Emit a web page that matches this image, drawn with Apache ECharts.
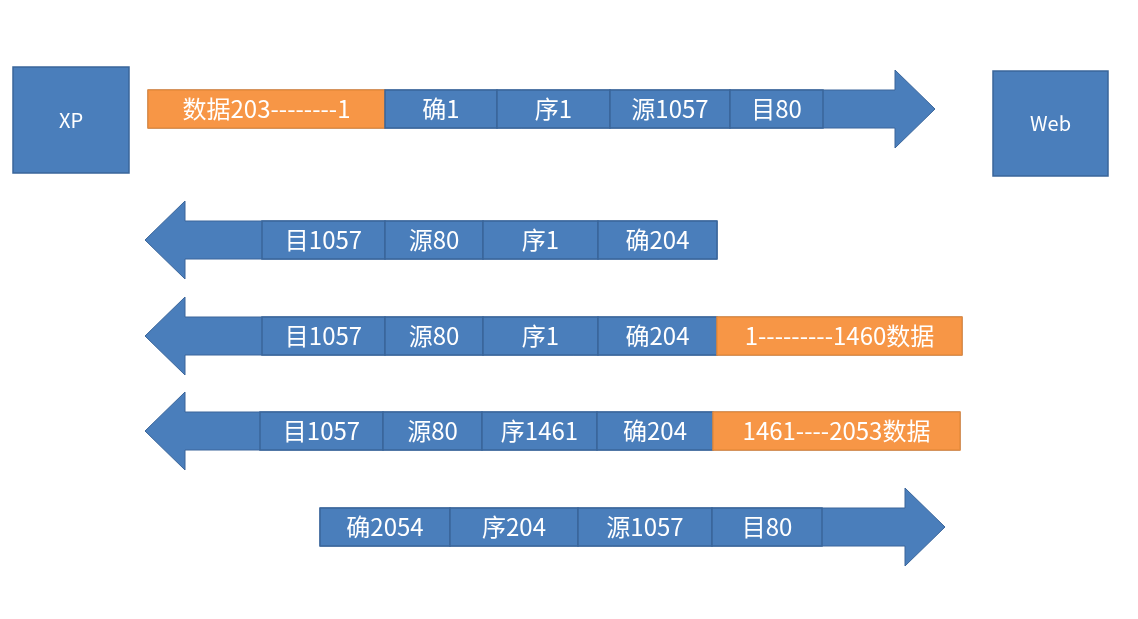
<!DOCTYPE html>
<html>
<head>
<meta charset="UTF-8">
<title>TCP</title>
<script src="https://cdn.jsdelivr.net/npm/echarts@6/dist/echarts.min.js"></script>
<style>html,body{margin:0;background:#fff}#main{width:1138px;height:619px}</style>
</head>
<body>
<div id="main"></div>
<script>
// hosts
var hostNames = ['XP', 'Web'];
var hostBoxes = [[13, 67, 129, 173], [993, 71, 1108, 176]];

// rows: direction, centre y, arrow tail / tip, cell edges and labels
var rowDir = ['right', 'left', 'left', 'left', 'right'];
var rowY = [109, 240, 336, 431, 527];
var rowTail = [148, 717, 962, 960, 320];
var rowTip = [935, 145, 145, 145, 945];
var rowEdges = [
    [148, 385, 497, 610, 730, 823],
    [262, 385, 483, 598, 717],
    [262, 385, 483, 598, 717, 962],
    [260, 383, 482, 597, 713, 960],
    [320, 450, 578, 712, 822]
];
var rowLabels = [
    ['数据203--------1', '确1', '序1', '源1057', '目80'],
    ['目1057', '源80', '序1', '确204'],
    ['目1057', '源80', '序1', '确204', '1---------1460数据'],
    ['目1057', '源80', '序1461', '确204', '1461----2053数据'],
    ['确2054', '序204', '源1057', '目80']
];
var rowOrange = [[0], [], [4], [4], []];

var BLUE = '#4a7ebb', EDGE = '#3a659a', ORANGE = '#f79646';
var FONT = '"Noto Sans CJK SC", sans-serif';

var chart = echarts.init(document.getElementById('main'));

function arrowItem(params, api) {
    var i = params.dataIndex;
    var y = rowY[i], tip = rowTip[i], tail = rowTail[i];
    var s = rowDir[i] === 'right' ? 1 : -1;
    var head = tip - s * 40;
    var pts = [[tail, y - 19], [head, y - 19], [head, y - 39], [tip, y], [head, y + 39], [head, y + 19], [tail, y + 19]];
    var children = [{
        type: 'polygon',
        shape: {points: pts.map(function (p) { return api.coord(p); })},
        style: {fill: BLUE, stroke: EDGE, lineWidth: 1}
    }];
    var e = rowEdges[i];
    for (var k = 0; k < e.length - 1; k++) {
        var a = api.coord([e[k], y - 19]), b = api.coord([e[k + 1], y + 19]);
        var orange = rowOrange[i].indexOf(k) >= 0;
        children.push({
            type: 'rect',
            shape: {x: a[0], y: a[1], width: b[0] - a[0], height: b[1] - a[1]},
            style: {fill: orange ? ORANGE : BLUE, stroke: orange ? '#e88a3a' : EDGE, lineWidth: 1.5}
        });
        children.push({
            type: 'text',
            style: {x: (a[0] + b[0]) / 2, y: (a[1] + b[1]) / 2, text: rowLabels[i][k],
                fill: '#fff', font: '24px ' + FONT, align: 'center', verticalAlign: 'middle'}
        });
    }
    return {type: 'group', children: children};
}

function hostItem(params, api) {
    var r = hostBoxes[params.dataIndex];
    var a = api.coord([r[0], r[1]]), b = api.coord([r[2], r[3]]);
    return {type: 'group', children: [
        {type: 'rect', shape: {x: a[0], y: a[1], width: b[0] - a[0], height: b[1] - a[1]},
            style: {fill: BLUE, stroke: EDGE, lineWidth: 1.5}},
        {type: 'text', style: {x: (a[0] + b[0]) / 2, y: (a[1] + b[1]) / 2, text: hostNames[params.dataIndex],
            fill: '#fff', font: '20px ' + FONT, align: 'center', verticalAlign: 'middle'}}
    ]};
}

chart.setOption({
    animation: false,
    grid: {left: 0, right: 0, top: 0, bottom: 0},
    xAxis: {type: 'value', min: 0, max: 1138, show: false},
    yAxis: {type: 'value', min: 0, max: 619, inverse: true, show: false},
    series: [
        {type: 'custom', renderItem: hostItem, data: hostNames.map(function (n, i) { return [i]; })},
        {type: 'custom', renderItem: arrowItem, data: rowY.map(function (y, i) { return [i]; })}
    ]
});
</script>
</body>
</html>
